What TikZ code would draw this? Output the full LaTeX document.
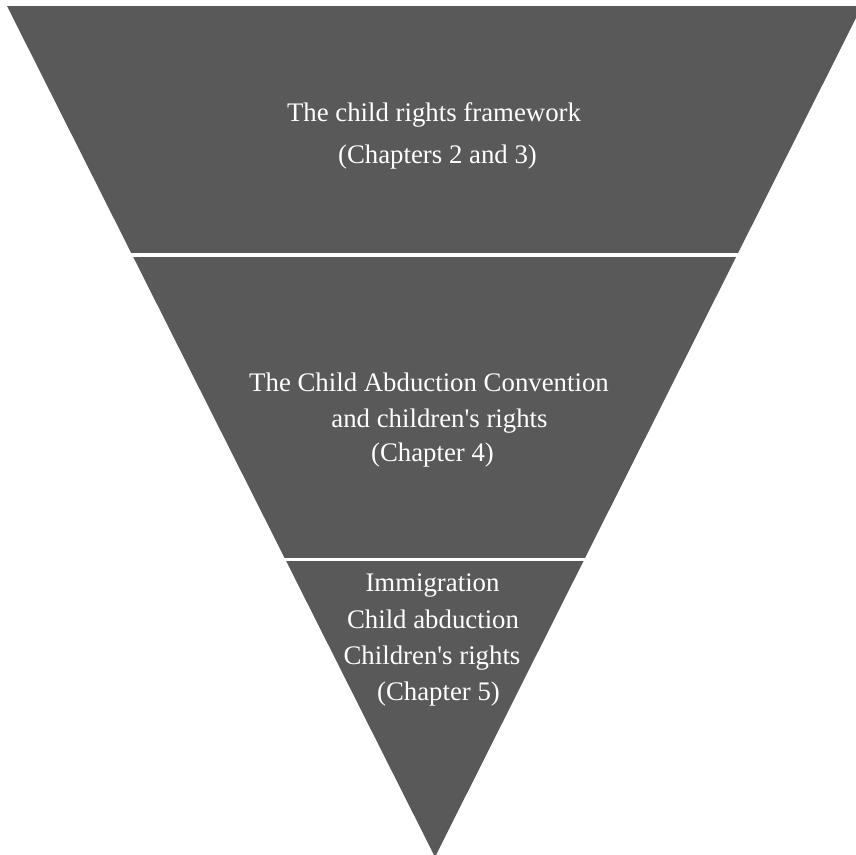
\documentclass[tikz,border=0pt]{standalone}
\usepackage{fontspec}
\setmainfont{Liberation Serif}
\definecolor{bandgray}{HTML}{595959}
\begin{document}
\begin{tikzpicture}[x=1pt,y=-1pt,
  lbl/.style={text=white,inner sep=0pt,anchor=base,font=\fontsize{26.8}{32}\selectfont}]
\useasboundingbox (0,0) rectangle (856,854);
\begin{scope}
\clip (7,6) -- (862,6) -- (435,857) -- cycle;
\fill[bandgray] (0,0) rectangle (870,253);
\fill[bandgray] (0,256.5) rectangle (870,557.5);
\fill[bandgray] (0,561) rectangle (870,870);
\end{scope}
\node[lbl] (a1) at (434,121.5) {The child rights framework};
\node[lbl] (a2) at (437.5,163) {(Chapters 2 and 3)};
\node[lbl] (b1) at (429,391.5) {The Child Abduction Convention};
\node[lbl] (b2) at (439.5,427) {and children\textquotesingle s rights};
\node[lbl] (b3) at (432.5,461.5) {(Chapter 4)};
\node[lbl] (c1) at (432.5,591) {Immigration};
\node[lbl] (c2) at (433,628) {Child abduction};
\node[lbl] (c3) at (432,664) {Children\textquotesingle s rights};
\node[lbl] (c4) at (438.5,700) {(Chapter 5)};
\end{tikzpicture}
\end{document}
